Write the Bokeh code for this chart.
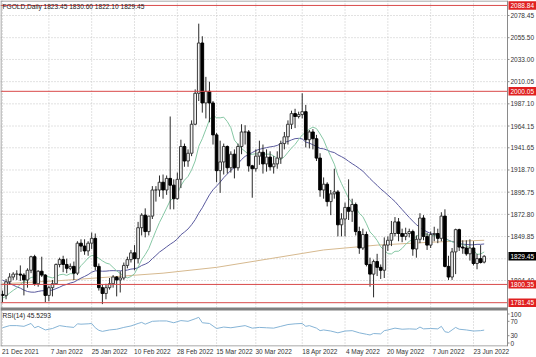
from bokeh.plotting import figure
from bokeh.models import Range1d, FixedTicker, Label
from bokeh.core.properties import value
from bokeh.embed import file_html
from bokeh.resources import INLINE

# ---------------- data ----------------
tick_bars = [0, 13, 25, 37, 49, 60, 71, 84, 96, 108, 120, 132]
tick_labels = ["21 Dec 2021", "7 Jan 2022", "25 Jan 2022", "10 Feb 2022", "28 Feb 2022",
               "15 Mar 2022", "30 Mar 2022", "18 Apr 2022", "4 May 2022", "20 May 2022",
               "7 Jun 2022", "23 Jun 2022"]
price_ticks = [2078.45, 2055.50, 2033.00, 2010.05, 1987.10, 1964.15, 1941.65, 1918.70,
               1895.75, 1872.80, 1849.85, 1826.90, 1804.40]
hidden_ticks = [1826.90]
level_prices = [2088.84, 2000.05, 1800.35, 1781.45]
last_price = 1829.45
rsi_levels = [100, 70, 30, 0]
title_text = "FGOLD,Daily  1823.45 1830.60 1822.10 1829.45"
rsi_text = "RSI(14) 45.5293"

open_ = [1790, 1789, 1803, 1808, 1811, 1811, 1810, 1805, 1815, 1829,
         1801, 1814, 1810, 1789, 1797, 1801, 1821, 1826, 1821, 1817,
         1819, 1812, 1843, 1840, 1835, 1843, 1848, 1819, 1797, 1791,
         1797, 1801, 1808, 1805, 1807, 1820, 1826, 1833, 1827, 1859,
         1872, 1855, 1871, 1898, 1898, 1906, 1898, 1910, 1903, 1889,
         1909, 1943, 1928, 1936, 1966, 1998, 2050, 1988, 2000, 1988,
         1955, 1918, 1927, 1943, 1921, 1935, 1921, 1943, 1958, 1958,
         1923, 1920, 1933, 1937, 1925, 1932, 1922, 1925, 1931, 1946,
         1953, 1966, 1977, 1974, 1976, 1979, 1950, 1958, 1951, 1931,
         1898, 1904, 1886, 1894, 1896, 1862, 1868, 1880, 1876, 1883,
         1855, 1838, 1852, 1821, 1811, 1824, 1818, 1815, 1841, 1846,
         1853, 1865, 1853, 1850, 1853, 1855, 1837, 1847, 1869, 1850,
         1841, 1852, 1853, 1848, 1871, 1819, 1808, 1834, 1857, 1839,
         1838, 1832, 1838, 1822, 1827, 1823.45]
high = [1794, 1806, 1812, 1813, 1815, 1820, 1812, 1817, 1830, 1831,
        1815, 1829, 1811, 1799, 1805, 1822, 1828, 1830, 1827, 1822,
        1824, 1845, 1847, 1847, 1845, 1854, 1853, 1822, 1800, 1801,
        1807, 1810, 1809, 1814, 1823, 1829, 1836, 1841, 1865, 1874,
        1879, 1871, 1902, 1902, 1913, 1914, 1913, 1974, 1909, 1916,
        1950, 1946, 1940, 1970, 2002, 2070, 2057, 2015, 2010, 1990,
        1957, 1949, 1946, 1944, 1938, 1940, 1946, 1966, 1965, 1960,
        1924, 1940, 1949, 1945, 1940, 1938, 1933, 1938, 1949, 1958,
        1970, 1980, 1982, 1979, 1998, 1986, 1960, 1961, 1955, 1936,
        1911, 1906, 1898, 1920, 1898, 1874, 1885, 1909, 1889, 1885,
        1860, 1858, 1855, 1828, 1826, 1832, 1821, 1849, 1850, 1866,
        1870, 1869, 1858, 1859, 1858, 1857, 1851, 1874, 1872, 1854,
        1855, 1860, 1858, 1875, 1878, 1830, 1838, 1858, 1858, 1846,
        1846, 1847, 1845, 1832, 1841, 1830.60]
low = [1782, 1785, 1800, 1805, 1805, 1804, 1789, 1797, 1812, 1799,
       1798, 1808, 1782, 1783, 1788, 1800, 1818, 1813, 1812, 1815,
       1805, 1810, 1834, 1831, 1830, 1837, 1815, 1794, 1780, 1785,
       1795, 1797, 1788, 1792, 1805, 1817, 1823, 1815, 1822, 1851,
       1849, 1851, 1868, 1886, 1891, 1889, 1893, 1878, 1878, 1888,
       1900, 1922, 1922, 1933, 1965, 1990, 1978, 1972, 1968, 1945,
       1906, 1895, 1914, 1915, 1916, 1910, 1918, 1935, 1945, 1917,
       1890, 1917, 1924, 1915, 1917, 1918, 1915, 1920, 1925, 1940,
       1945, 1961, 1962, 1972, 1972, 1942, 1941, 1940, 1928, 1891,
       1889, 1881, 1872, 1889, 1850, 1850, 1850, 1867, 1865, 1851,
       1832, 1836, 1819, 1798, 1787, 1809, 1806, 1807, 1835, 1840,
       1850, 1845, 1844, 1846, 1849, 1830, 1828, 1843, 1846, 1836,
       1838, 1845, 1843, 1845, 1818, 1805, 1805, 1811, 1835, 1832,
       1830, 1825, 1820, 1816, 1822, 1822.10]
close = [1789, 1803, 1808, 1811, 1811, 1810, 1805, 1815, 1829, 1801,
         1814, 1810, 1789, 1797, 1801, 1821, 1826, 1821, 1817, 1819,
         1812, 1843, 1840, 1835, 1843, 1848, 1819, 1797, 1791, 1797,
         1801, 1808, 1805, 1807, 1820, 1826, 1833, 1827, 1859, 1872,
         1855, 1871, 1898, 1898, 1906, 1898, 1910, 1903, 1889, 1909,
         1943, 1928, 1936, 1966, 1998, 2050, 1988, 2000, 1988, 1955,
         1918, 1927, 1943, 1921, 1935, 1921, 1943, 1958, 1958, 1923,
         1920, 1933, 1937, 1925, 1932, 1922, 1925, 1931, 1946, 1953,
         1966, 1977, 1974, 1976, 1979, 1950, 1958, 1951, 1931, 1898,
         1904, 1886, 1894, 1896, 1862, 1868, 1880, 1876, 1883, 1855,
         1838, 1852, 1821, 1811, 1824, 1818, 1815, 1841, 1846, 1853,
         1865, 1853, 1850, 1853, 1855, 1837, 1847, 1869, 1850, 1841,
         1852, 1853, 1848, 1871, 1819, 1808, 1834, 1857, 1839, 1838,
         1832, 1838, 1822, 1827, 1823, 1829.45]

ma_fast = [1786.1, 1788.1, 1791.4, 1794.2, 1796.6, 1800.5, 1803.3, 1805.0, 1807.5, 1808.2,
           1810.7, 1811.4, 1809.5, 1808.1, 1807.1, 1808.2, 1810.3, 1810.9, 1809.7, 1811.5,
           1811.3, 1814.6, 1819.7, 1823.5, 1827.7, 1830.4, 1829.7, 1827.3, 1824.7, 1822.5,
           1821.4, 1817.9, 1814.4, 1811.6, 1809.3, 1807.1, 1808.5, 1811.5, 1818.3, 1825.8,
           1831.2, 1837.5, 1846.8, 1855.9, 1864.5, 1871.7, 1879.4, 1887.0, 1890.0, 1893.7,
           1902.5, 1908.2, 1912.0, 1918.8, 1928.0, 1943.2, 1951.0, 1960.7, 1970.6, 1975.2,
           1972.7, 1972.6, 1973.3, 1968.8, 1962.5, 1949.6, 1945.1, 1940.9, 1937.9, 1934.7,
           1934.9, 1935.5, 1934.9, 1935.3, 1935.0, 1935.1, 1933.3, 1930.6, 1929.4, 1932.4,
           1937.0, 1941.4, 1945.1, 1950.2, 1954.9, 1957.7, 1961.0, 1963.0, 1961.5, 1956.0,
           1949.8, 1940.7, 1932.7, 1924.7, 1913.0, 1904.8, 1897.0, 1889.5, 1884.7, 1880.4,
           1873.8, 1870.4, 1863.1, 1854.6, 1850.8, 1845.8, 1839.3, 1835.8, 1832.1, 1831.9,
           1834.6, 1834.7, 1837.6, 1841.8, 1844.9, 1846.8, 1850.0, 1852.8, 1853.2, 1852.0,
           1850.7, 1850.7, 1850.5, 1852.3, 1848.7, 1845.8, 1844.5, 1843.3, 1842.2, 1841.9,
           1839.9, 1838.4, 1835.8, 1831.4, 1831.8, 1833.9]
ma_slow = [1804.7, 1803.2, 1801.4, 1799.6, 1797.9, 1796.5, 1794.5, 1793.0, 1792.4, 1792.3,
           1793.1, 1793.8, 1793.8, 1793.9, 1794.5, 1796.0, 1797.5, 1799.3, 1800.4, 1801.8,
           1802.7, 1804.7, 1806.9, 1808.6, 1810.5, 1813.0, 1814.4, 1814.4, 1814.0, 1814.1,
           1814.5, 1814.6, 1814.5, 1814.4, 1814.7, 1815.2, 1816.2, 1816.6, 1817.6, 1819.9,
           1821.3, 1823.3, 1827.0, 1830.3, 1833.8, 1836.4, 1839.2, 1841.9, 1844.3, 1847.3,
           1851.7, 1854.5, 1857.7, 1862.1, 1867.3, 1874.0, 1879.6, 1886.4, 1893.0, 1898.2,
           1902.1, 1906.1, 1910.7, 1914.5, 1918.3, 1921.5, 1925.2, 1929.5, 1932.8, 1934.5,
           1936.7, 1938.8, 1940.1, 1941.0, 1941.8, 1942.6, 1943.1, 1944.1, 1946.0, 1947.4,
           1948.2, 1949.8, 1951.1, 1951.4, 1950.8, 1947.5, 1946.5, 1944.8, 1942.9, 1941.0,
           1940.6, 1939.2, 1937.6, 1936.7, 1934.3, 1932.5, 1930.4, 1927.7, 1925.2, 1922.9,
           1920.2, 1917.5, 1913.6, 1909.8, 1906.2, 1902.8, 1899.1, 1896.1, 1892.8, 1889.4,
           1886.1, 1881.9, 1877.8, 1873.7, 1869.6, 1865.8, 1862.1, 1859.4, 1856.7, 1854.8,
           1853.0, 1851.9, 1850.4, 1849.6, 1848.1, 1846.1, 1844.6, 1844.0, 1842.5, 1841.9,
           1841.7, 1841.3, 1841.3, 1841.8, 1841.8, 1842.2]
ma200_bar = [0, 15, 30, 45, 60, 75, 90, 105, 120, 135]
ma200_val = [1801, 1804, 1808, 1812, 1818, 1827, 1836, 1841, 1844, 1846]

rsi_bar = [0, 2, 4, 6, 8, 9, 10, 12, 14, 16,
           18, 20, 21, 22, 24, 25, 26, 27, 28, 30,
           32, 34, 36, 38, 39, 40, 42, 44, 46, 48,
           50, 52, 54, 55, 56, 58, 59, 60, 62, 64,
           66, 68, 70, 72, 74, 76, 78, 80, 82, 84,
           85, 86, 88, 89, 90, 92, 94, 96, 98, 100,
           102, 103, 104, 106, 107, 108, 110, 112, 114, 116,
           117, 118, 120, 122, 123, 124, 125, 126, 127, 128,
           130, 132, 134, 135]
rsi_val = [52, 58, 58, 56, 64, 52, 56, 46, 50, 58,
           55, 53, 63, 62, 63, 64, 52, 45, 42, 46,
           48, 53, 57, 64, 67, 62, 70, 71, 71, 66,
           72, 70, 77, 81, 66, 64, 57, 50, 54, 52,
           55, 58, 51, 53, 52, 51, 56, 61, 63, 64,
           56, 58, 51, 44, 46, 43, 38, 43, 44, 38,
           34, 32, 36, 35, 44, 46, 51, 48, 49, 48,
           54, 49, 50, 49, 56, 41, 39, 46, 53, 48,
           46, 43, 44, 45.53]

# ---------------- geometry (pixels of the 536 x 357 page) ----------------
FW, FH = 536, 346
AX_PX = 507          # right price-scale line
PX_PER_BAR = 3.568
X0 = -2.0 / PX_PER_BAR
PX_PER_USD = 0.967
Y_TOP = 2078.45 + 15 / PX_PER_USD
Y_BOT = Y_TOP - FH / PX_PER_USD
RSI_PX = 0.36        # px per RSI unit, RSI 0 on the bottom edge


def px2bar(px):
    return X0 + px / PX_PER_BAR


def py2price(py):
    return Y_TOP - py / PX_PER_USD


FONT = "Liberation Sans"
GRID = "#c4c4c4"
AXIS = "#8a8a8a"
TXT = "#333333"
x_ax = px2bar(AX_PX)

p = figure(frame_width=FW, frame_height=FH,
           x_range=Range1d(X0, px2bar(FW)),
           y_range=Range1d(Y_BOT, Y_TOP),
           y_axis_location=None,
           output_backend="svg", toolbar_location=None,
           min_border_left=0, min_border_right=0, min_border_top=0, min_border_bottom=0)
p.extra_y_ranges = {"rsi": Range1d(0, FH / RSI_PX)}
p.background_fill_color = "white"
p.border_fill_color = "white"
p.outline_line_color = None
p.xgrid.visible = False
p.ygrid.visible = False

# x axis (MT4 labels start at their bar)
shift = 5
p.xaxis.ticker = FixedTicker(ticks=[b + shift for b in tick_bars])
p.xaxis.major_label_overrides = {b + shift: t for b, t in zip(tick_bars, tick_labels)}
p.xaxis.major_tick_line_color = None
p.xaxis.minor_tick_line_color = None
p.xaxis.major_tick_out = 0
p.xaxis.major_tick_in = 0
p.xaxis.axis_line_color = None
p.xaxis.major_label_standoff = 1
p.xaxis.major_label_text_font = FONT
p.xaxis.major_label_text_font_size = "6.5px"
p.xaxis.major_label_text_color = TXT

# dotted grid, limited to the chart area
p.segment(x0=tick_bars, y0=[Y_BOT] * len(tick_bars), x1=tick_bars, y1=[Y_TOP] * len(tick_bars),
          line_color=GRID, line_dash="1 2", line_width=1)
p.segment(x0=[X0] * len(price_ticks), y0=price_ticks, x1=[x_ax] * len(price_ticks), y1=price_ticks,
          line_color=GRID, line_dash="1 2", line_width=1)

# moving averages
bars = list(range(len(close)))
p.line(ma200_bar, ma200_val, line_color="#d6b98f", line_width=1)
p.line(bars, ma_slow, line_color="#5a5a9e", line_width=1)
p.line(bars, ma_fast, line_color="#86c7a4", line_width=1)

# candles
p.segment(x0=bars, y0=low, x1=bars, y1=high, line_color="#2a2a2a", line_width=1)
up = [i for i in bars if close[i] >= open_[i]]
dn = [i for i in bars if close[i] < open_[i]]
p.vbar(x=up, width=0.75, top=[close[i] for i in up], bottom=[open_[i] for i in up],
       fill_color="#f4f4f4", line_color="#3a3a3a", line_width=1)
p.vbar(x=dn, width=0.75, top=[open_[i] for i in dn], bottom=[close[i] for i in dn],
       fill_color="black", line_color="black", line_width=1)

# horizontal levels
p.segment(x0=[X0] * len(level_prices), y0=level_prices, x1=[x_ax] * len(level_prices),
          y1=level_prices, line_color="#d94a4a", line_width=1)

# RSI
p.line(rsi_bar, rsi_val, y_range_name="rsi", line_color="#86b4d6", line_width=1)

# borders: top, left, panel separator, bottom, price scale line
p.segment(x0=[X0, px2bar(0.5), X0, X0, x_ax],
          y0=[py2price(0.5), Y_BOT, py2price(308.5), py2price(345.5), Y_BOT],
          x1=[x_ax, px2bar(0.5), x_ax, x_ax, x_ax],
          y1=[py2price(0.5), Y_TOP, py2price(308.5), py2price(345.5), Y_TOP],
          line_color=[AXIS, AXIS, "#7f7f7f", AXIS, AXIS], line_width=[1, 1, 3, 1, 1])

# right scale: tick marks + labels
rsi_tick_prices = []
for r in rsi_levels:
    py = min(max(FH - RSI_PX * r, 313.5), 342.5)
    rsi_tick_prices.append(py2price(py))
shown = [v for v in price_ticks if v not in hidden_ticks]
all_ticks = shown + rsi_tick_prices
all_text = [f"{v:.2f}" for v in shown] + [str(r) for r in rsi_levels]
p.segment(x0=[x_ax] * len(all_ticks), y0=all_ticks, x1=[px2bar(AX_PX + 2)] * len(all_ticks),
          y1=all_ticks, line_color=AXIS, line_width=1)
p.text(x=[px2bar(AX_PX + 3)] * len(all_ticks), y=all_ticks, text=all_text,
       text_font=value(FONT), text_font_size=value("6.5px"), text_color=TXT,
       text_baseline="middle", text_align="left")

# price boxes on the scale
box_prices = level_prices + [last_price]
box_colors = ["#e02020"] * len(level_prices) + ["#000000"]
half = 4.2 / PX_PER_USD
p.quad(left=[px2bar(AX_PX + 1)] * len(box_prices), right=[px2bar(FW)] * len(box_prices),
       top=[v + half for v in box_prices], bottom=[v - half for v in box_prices],
       fill_color=box_colors, line_color=None)
p.text(x=[px2bar(AX_PX + 3)] * len(box_prices), y=box_prices, text=[f"{v:.2f}" for v in box_prices],
       text_font=value(FONT), text_font_size=value("6.5px"), text_color="white",
       text_baseline="middle", text_align="left")

# panel captions
p.add_layout(Label(x=X0, x_offset=2, y=py2price(5.5), text=title_text, text_font=FONT,
                   text_font_size="6.6px", text_color="#1a1a1a", text_baseline="middle"))
p.add_layout(Label(x=X0, x_offset=2, y=(FH - 315) / RSI_PX, y_range_name="rsi", text=rsi_text,
                   text_font=FONT, text_font_size="6.6px", text_color="#1a1a1a",
                   text_baseline="middle"))

open("out.html", "w").write(file_html(p, INLINE))
